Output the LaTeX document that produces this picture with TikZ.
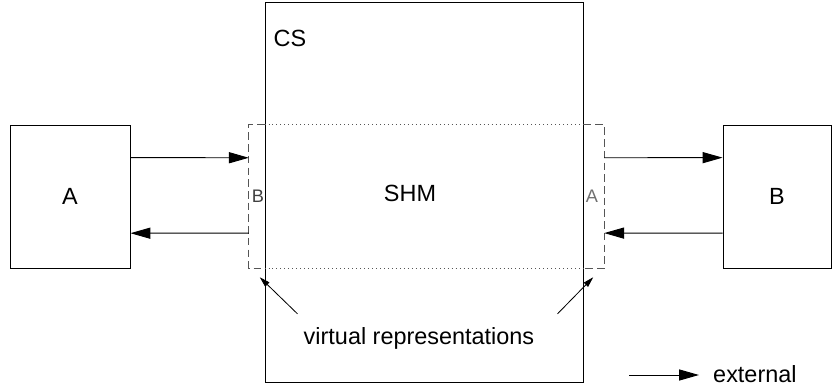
\documentclass[tikz,border=0pt]{standalone}
\usepackage{fontspec}
\setmainfont{Liberation Sans}
\usepackage{tikz}
\usetikzlibrary{arrows.meta,calc}
\definecolor{dashgray}{HTML}{555555}
\definecolor{labgray}{HTML}{707070}
\tikzset{
  sysbox/.style={draw=black,line width=0.8pt,inner sep=0pt,font=\fontsize{20}{24}\selectfont},
  vrbox/.style={inner sep=0pt},
  vrdash/.style={draw=dashgray,line width=0.8pt,dash pattern=on 6.5pt off 3.5pt},
  vrdot/.style={draw=dashgray,line width=0.8pt,dash pattern=on 0.8pt off 2.6pt},
  extarrow/.style={-{Triangle[length=17pt,width=9.5pt]},line width=0.8pt},
  ptrarrow/.style={-{Triangle[length=9pt,width=5pt]},line width=0.7pt},
  bigtext/.style={font=\fontsize{20}{24}\selectfont,inner sep=0pt},
  smalltext/.style={font=\fontsize{15.5}{18}\selectfont,inner sep=0pt,text=labgray}
}
\begin{document}
\begin{tikzpicture}[x=0.03cm,y=-0.03cm]
\useasboundingbox (0,0) rectangle (832,387);
% systems
\node[sysbox,minimum width=3.6cm,minimum height=4.29cm] (A) at (70,196.5) {A};
\node[sysbox,minimum width=3.24cm,minimum height=4.29cm] (B) at (777,196.5) {B};
\node[sysbox,minimum width=9.54cm,minimum height=11.4cm] (cs) at (424,192) {};
\node[bigtext] (cslab) at (290,38) {CS};
\node[bigtext] (shm) at (410,193) {SHM};
% virtual representations
\node[vrbox,minimum width=10.65cm,minimum height=4.29cm] (vr) at (426.5,196.5) {};
\draw[vrdash] (vr.north -| cs.west) -| (vr.south west) -- (vr.south -| cs.west);
\draw[vrdash] (vr.north -| cs.east) -| (vr.south east) -- (vr.south -| cs.east);
\draw[vrdot] (vr.north -| cs.west) -- (vr.north -| cs.east);
\draw[vrdot] (vr.south -| cs.west) -- (vr.south -| cs.east);
\node[smalltext,text=black!75] (vB) at (258,196) {B};
\node[smalltext] (vA) at (592,196) {A};
% links
\draw[extarrow] ($(A.north east)!0.23!(A.south east)$) -- ($(vr.north west)!0.23!(vr.south west)$);
\draw[extarrow] ($(vr.north west)!0.755!(vr.south west)$) -- ($(A.north east)!0.755!(A.south east)$);
\draw[extarrow] ($(vr.north east)!0.23!(vr.south east)$) -- ($(B.north west)!0.23!(B.south west)$);
\draw[extarrow] ($(B.north west)!0.755!(B.south west)$) -- ($(vr.north east)!0.755!(vr.south east)$);
% note
\node[bigtext] (vtext) at (419,338) {virtual representations};
\draw[ptrarrow] ([shift={(-6,-13)}]vtext.north west) -- ([shift={(11,9)}]vr.south west);
\draw[ptrarrow] ([shift={(23,-13)}]vtext.north east) -- ([shift={(-11,9)}]vr.south east);
% legend
\node[bigtext,anchor=west] (ext) at (713,374) {external};
\coordinate (legstart) at (629,375);
\draw[extarrow] (legstart) -- ([xshift=-12pt]ext.west |- legstart);
\end{tikzpicture}
\end{document}
